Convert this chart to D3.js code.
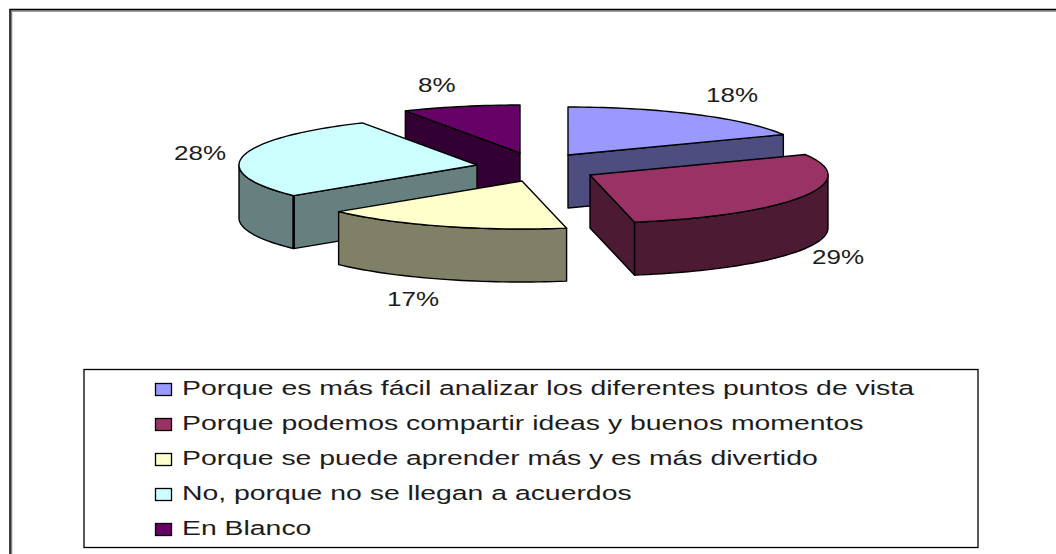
<!DOCTYPE html>
<html><head><meta charset="utf-8">
<script src="https://cdn.jsdelivr.net/npm/d3@7"></script>
<style>html,body{margin:0;padding:0;background:#fff}svg{display:block}
text{font-family:"Liberation Sans",Arial,sans-serif;fill:#1c1c1c}</style>
</head><body>
<svg id="c" width="1056" height="554"></svg>
<script>
const categories = [
  "Porque es más fácil analizar los diferentes puntos de vista",
  "Porque podemos compartir ideas y buenos momentos",
  "Porque se puede aprender más y es más divertido",
  "No, porque no se llegan a acuerdos",
  "En Blanco"
];
const values = [18, 29, 17, 28, 8];
const topColors = ["#9999FF", "#993366", "#FFFFCC", "#CCFFFF", "#660066"];
const sideColors = ["#4D4D80", "#4D1A33", "#808066", "#668080", "#330033"];

// layout
const center = {x: 535, y: 165}, rx = 238, ry = 48, depth = 53;
const offsets = [[33,-10],[55,10],[-13,16],[-58,0],[-15,-12]];
const labelPos = [[706,102],[812,264],[387,306],[174,160],[418,92]];
const drawOrder = [4,0,3,1,2];

const svg = d3.select("#c");
const labelStretch = 1.24, legendStretch = 1.385;

// frame
svg.append("path").attr("d","M11.5,554V11H1056").attr("fill","none").attr("stroke","#808080").attr("stroke-width",1.5);
svg.append("path").attr("d","M10,554V9.5H1056").attr("fill","none").attr("stroke","#000").attr("stroke-width",1.5);

const slices = d3.pie().sort(null).value(d=>d)(values);
const px = d3.scaleLinear().domain([-1,1]).range([-rx,rx]);
const py = d3.scaleLinear().domain([-1,1]).range([-ry,ry]);
const line = d3.line().x(d=>d[0]).y(d=>d[1]);
const onRim = (a,o,dz=0)=>[center.x+o[0]+px(Math.sin(a)), center.y+o[1]+py(-Math.cos(a))+dz];
const apex = (o,dz=0)=>[center.x+o[0], center.y+o[1]+dz];
const rim = (a0,a1,o,dz=0)=>{
  const n = Math.max(2,Math.ceil((a1-a0)/0.03));
  return d3.range(n+1).map(k=>onRim(a0+(a1-a0)*k/n,o,dz));
};
function face(g,pts,fill){
  g.append("path").attr("d",line(pts)+"Z").attr("fill",fill)
   .attr("stroke","#000").attr("stroke-width",1.4).attr("stroke-linejoin","round");
}
drawOrder.forEach(i=>{
  const s = slices[i], o = offsets[i], g = svg.append("g"), side = sideColors[i];
  if (Math.sin(s.startAngle) < -1e-6)
    face(g,[apex(o),onRim(s.startAngle,o),onRim(s.startAngle,o,depth),apex(o,depth)],side);
  if (Math.sin(s.endAngle) > 1e-6)
    face(g,[apex(o),onRim(s.endAngle,o),onRim(s.endAngle,o,depth),apex(o,depth)],side);
  const a0 = Math.max(s.startAngle,Math.PI/2), a1 = Math.min(s.endAngle,3*Math.PI/2);
  if (a1 > a0) face(g,rim(a0,a1,o).concat(rim(a0,a1,o,depth).reverse()),side);
  // heavier corner edge on the light-blue slice, as in the reference
  if (i === 3) g.append("path").attr("d",line([onRim(s.startAngle,o),onRim(s.startAngle,o,depth)]))
    .attr("stroke","#000").attr("stroke-width",2.6).attr("fill","none");
  face(g,[apex(o)].concat(rim(s.startAngle,s.endAngle,o)),topColors[i]);
});

// percent labels
const pct = d3.format(".0%"), total = d3.sum(values);
svg.selectAll("text.pct").data(values).join("text").attr("class","pct")
  .attr("transform",(d,i)=>`translate(${labelPos[i][0]},${labelPos[i][1]}) scale(${labelStretch},1)`)
  .attr("font-size",21).text(d=>pct(d/total));

// legend
svg.append("rect").attr("x",84).attr("y",369.5).attr("width",894).attr("height",178)
  .attr("fill","#fff").attr("stroke","#000").attr("stroke-width",1.3);
const ly = d3.scalePoint().domain(d3.range(categories.length)).range([395,535]);
const lg = svg.selectAll("g.l").data(categories).join("g").attr("class","l");
lg.append("rect").attr("x",155.5).attr("y",(d,i)=>ly(i)-11.5).attr("width",16).attr("height",12)
  .attr("fill",(d,i)=>topColors[i]).attr("stroke","#000").attr("stroke-width",1.3);
lg.append("text").attr("transform",(d,i)=>`translate(182,${ly(i)}) scale(${legendStretch},1)`)
  .attr("font-size",20.5).text(d=>d);
</script>
</body></html>
